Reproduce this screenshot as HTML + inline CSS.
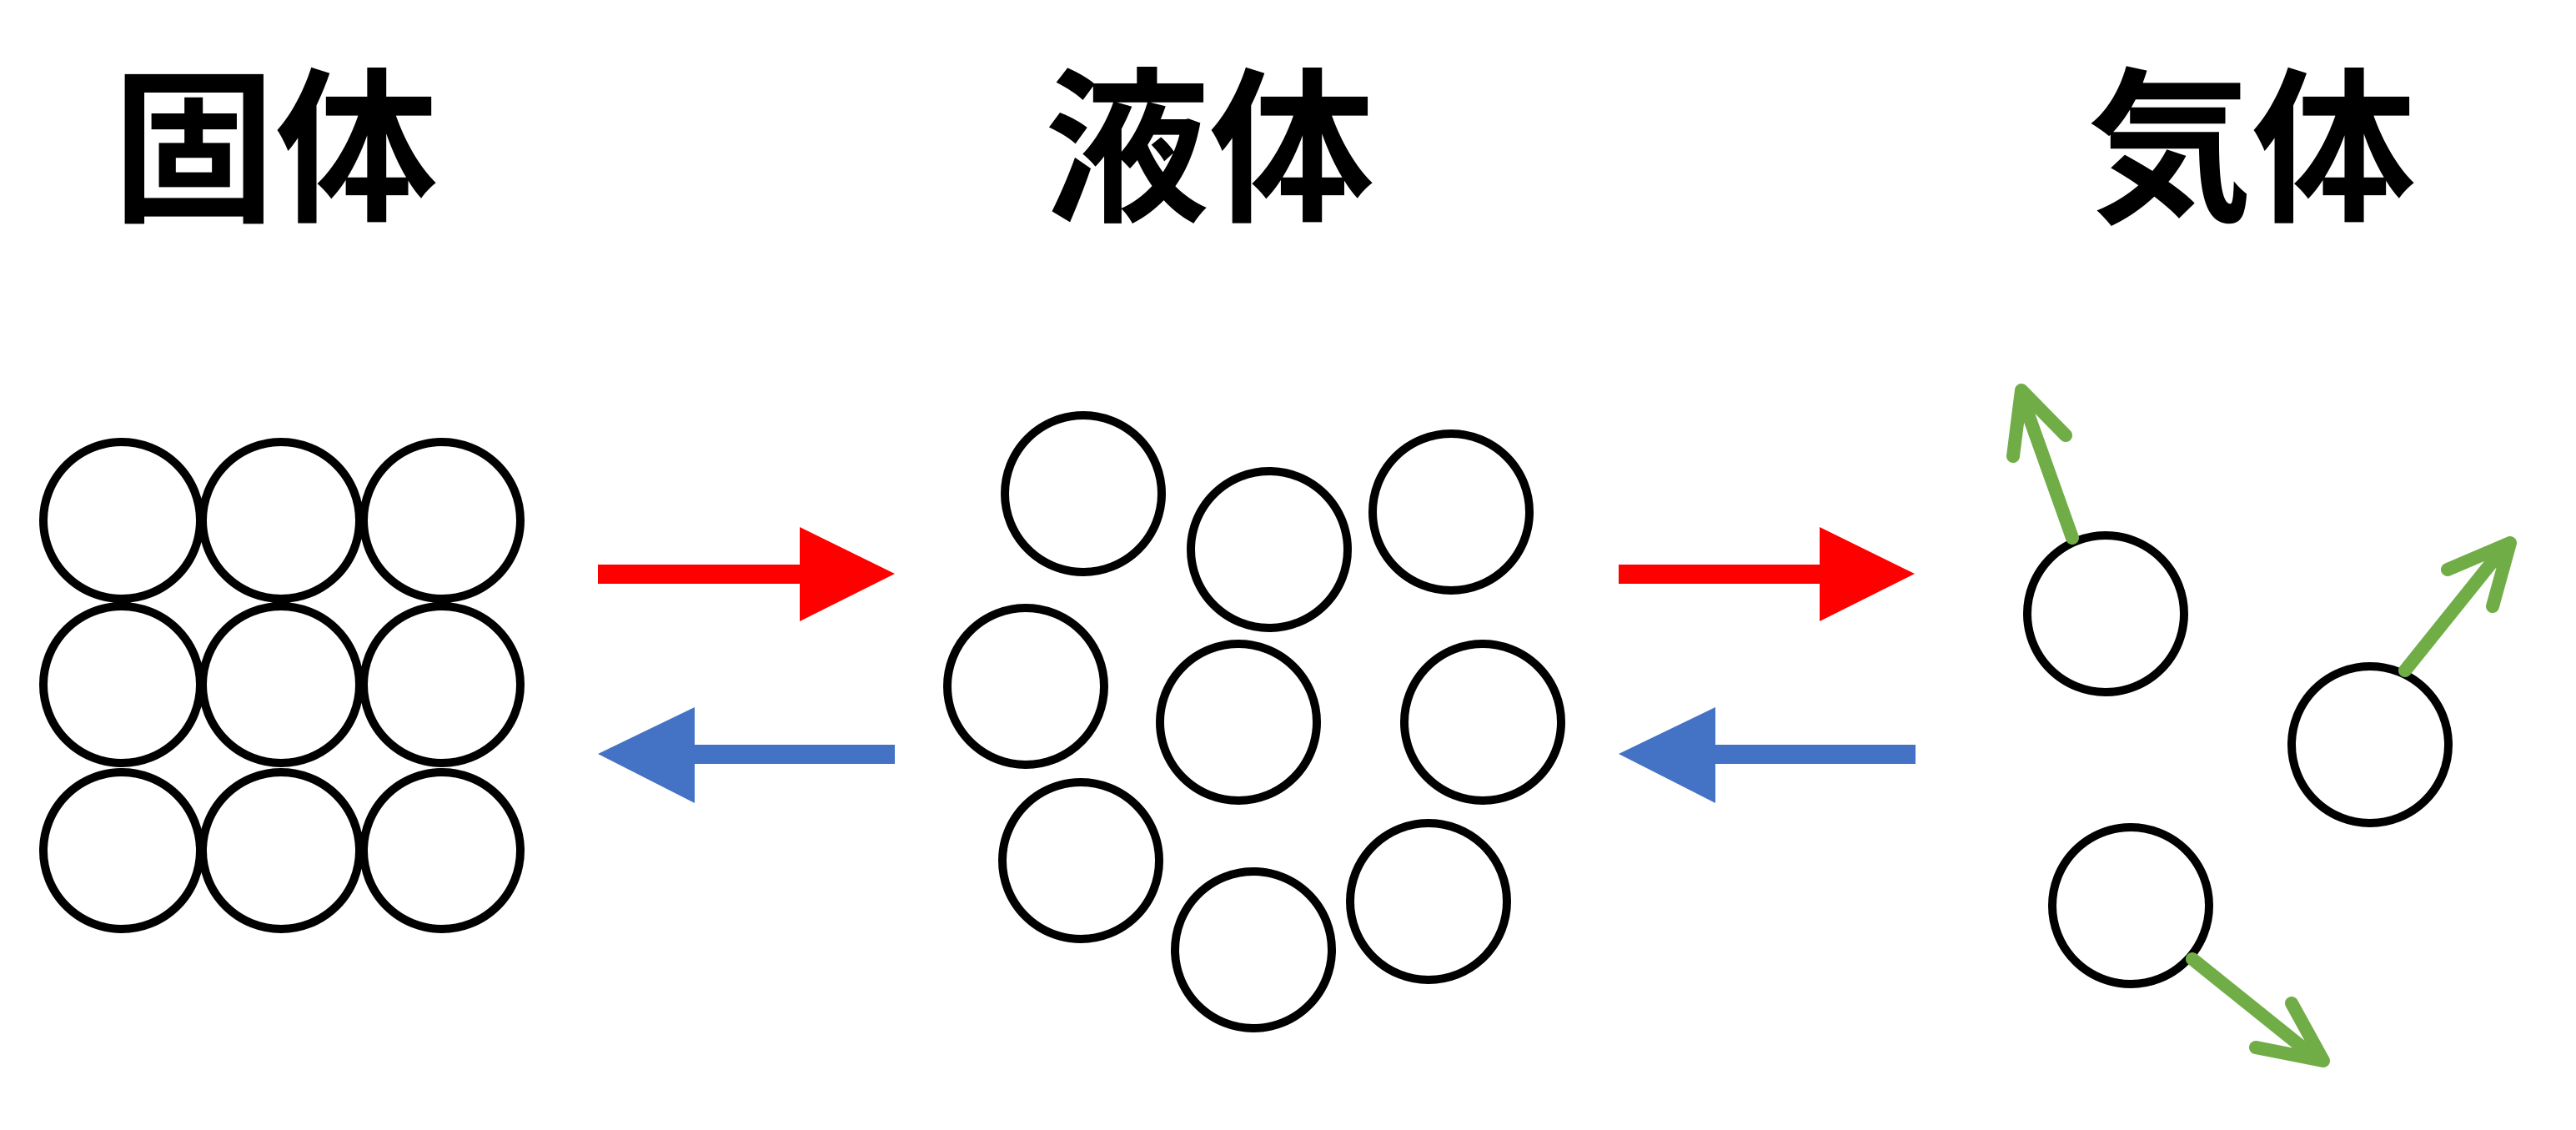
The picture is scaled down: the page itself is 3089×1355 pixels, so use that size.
<!DOCTYPE html>
<html><head><meta charset="utf-8"><style>
html,body{margin:0;padding:0;background:#fff;}
svg{display:block;}
text{font-family:"Liberation Sans","Noto Sans CJK JP",sans-serif;font-weight:bold;font-size:200px;fill:#000;}
</style></head><body>
<svg width="3089" height="1355" viewBox="0 0 3089 1355" xmlns="http://www.w3.org/2000/svg">
<text x="135" y="250" textLength="390" lengthAdjust="spacingAndGlyphs">固体</text>
<text x="1252" y="250" textLength="396" lengthAdjust="spacingAndGlyphs">液体</text>
<text x="2503" y="250" textLength="394" lengthAdjust="spacingAndGlyphs">気体</text>
<g fill="none" stroke="#000" stroke-width="10">
<circle cx="146" cy="624" r="94"/><circle cx="337" cy="624" r="94"/><circle cx="530" cy="624" r="94"/>
<circle cx="146" cy="821" r="94"/><circle cx="337" cy="821" r="94"/><circle cx="530" cy="821" r="94"/>
<circle cx="146" cy="1020" r="94"/><circle cx="337" cy="1020" r="94"/><circle cx="530" cy="1020" r="94"/>
<circle cx="1299" cy="592" r="94"/><circle cx="1522" cy="659" r="94"/><circle cx="1740" cy="614" r="94"/>
<circle cx="1230" cy="823" r="94"/><circle cx="1485" cy="866" r="94"/><circle cx="1778" cy="866" r="94"/>
<circle cx="1296" cy="1032" r="94"/><circle cx="1503" cy="1139" r="94"/><circle cx="1713" cy="1081" r="94"/>
<circle cx="2525" cy="736" r="94"/><circle cx="2842" cy="893" r="94"/><circle cx="2555" cy="1086" r="94"/>
</g>
<g fill="#ff0000"><rect x="717" y="677" width="245" height="23"/><polygon points="959,632 1073,688 959,745"/>
<rect x="1941" y="677" width="245" height="23"/><polygon points="2182,632 2296,688 2182,745"/></g>
<g fill="#4472c4"><rect x="830" y="893" width="243" height="23"/><polygon points="833,848 717,904 833,963"/>
<rect x="2054" y="893" width="243" height="23"/><polygon points="2057,848 1941,904 2057,963"/></g>
<g stroke="#70ad47" stroke-width="16" stroke-linecap="round" fill="#70ad47" stroke-linejoin="round">
<line x1="2485" y1="645" x2="2424" y2="474"/><polyline fill="none" points="2414,547 2424,468 2477,522"/>
<polygon stroke-width="4" points="2420,464 2428,500 2445,490"/>
<line x1="2884" y1="804" x2="3002" y2="657"/><polyline fill="none" points="2935,683 3010,651 2989,727"/>
<polygon stroke-width="4" points="3010,647 2980,665 2995,680"/>
<line x1="2629" y1="1150" x2="2776" y2="1268"/><polyline fill="none" points="2705,1256 2786,1272 2748,1203"/>
<polygon stroke-width="4" points="2788,1276 2755,1262 2770,1245"/>
</g>
</svg>
</body></html>
